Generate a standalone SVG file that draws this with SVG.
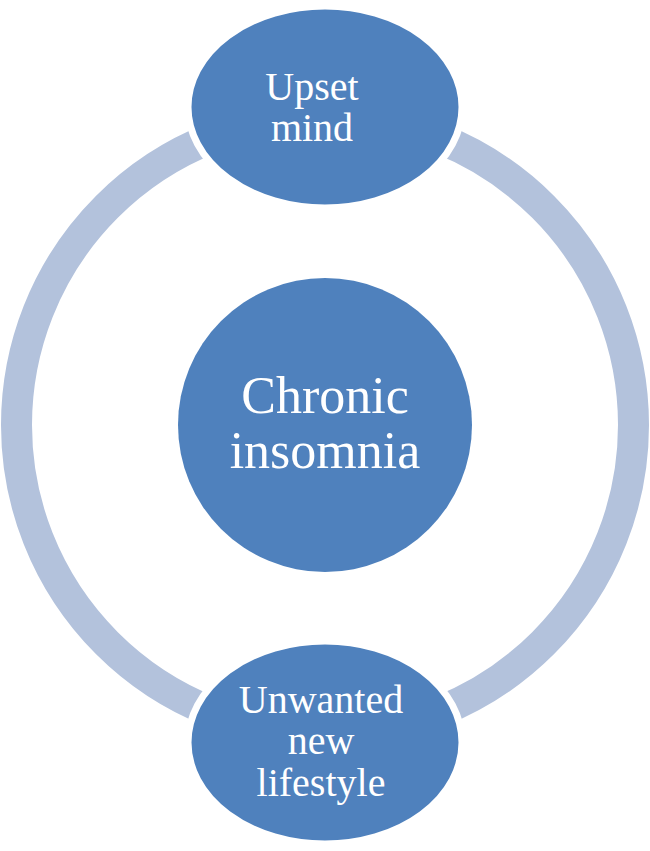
<svg xmlns="http://www.w3.org/2000/svg" width="650" height="851" viewBox="0 0 650 851">
<style>
.node{fill:#4F81BD;stroke:#FFFFFF;stroke-width:7}
.lbl{fill:#FFFFFF;font-family:"Liberation Serif","Times New Roman",serif;text-anchor:middle}
</style>
<rect width="650" height="851" fill="#FFFFFF"/>
<g id="connectors">
<circle cx="325" cy="425" r="308.5" fill="none" stroke="#B3C2DC" stroke-width="31"/>
</g>
<g id="center">
<circle cx="325" cy="425" r="147" fill="#4F81BD"/>
<text class="lbl" font-size="52" x="325" y="413">Chronic</text>
<text class="lbl" font-size="52" x="325" y="468">insomnia</text>
</g>
<g id="upset-mind">
<ellipse class="node" cx="325" cy="107" rx="137" ry="101"/>
<text class="lbl" font-size="40" x="312" y="100">Upset</text>
<text class="lbl" font-size="40" x="312" y="141">mind</text>
</g>
<g id="unwanted-lifestyle">
<ellipse class="node" cx="325" cy="742.5" rx="137" ry="101.5"/>
<text class="lbl" font-size="40" x="321" y="713">Unwanted</text>
<text class="lbl" font-size="40" x="321" y="754">new</text>
<text class="lbl" font-size="40" x="321" y="796">lifestyle</text>
</g>
</svg>
